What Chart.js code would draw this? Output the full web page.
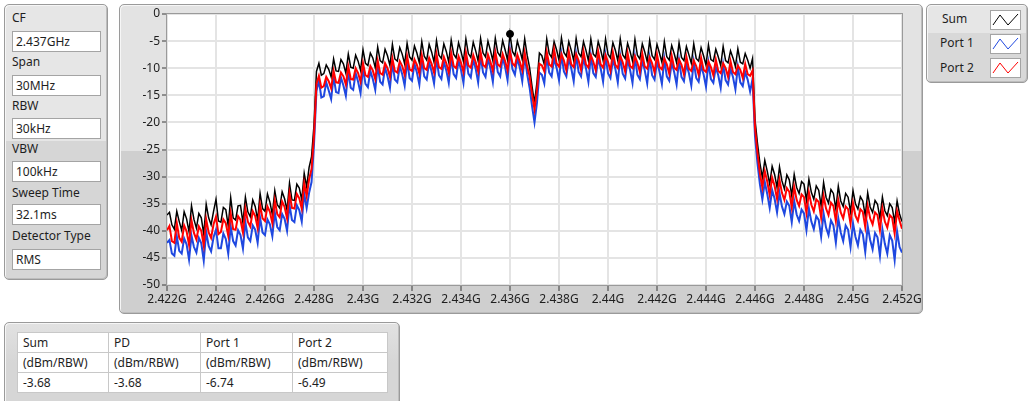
<!DOCTYPE html>
<html>
<head>
<meta charset="utf-8">
<script src="https://cdn.jsdelivr.net/npm/chart.js@4.4.1/dist/chart.umd.min.js"></script>
<style>
  html, body { margin: 0; padding: 0; background: #fff; }
  body {
    width: 1029px; height: 401px; position: relative; overflow: hidden;
    font-family: "Noto Sans", "DejaVu Sans", sans-serif; font-size: 12px; color: #1e1e1e;
  }
  .panel {
    position: absolute; box-sizing: border-box;
    border: 1px solid #9a9a9a; border-radius: 5px;
    box-shadow: inset 1px 1px 0 #f6f6f6, inset -1px -1px 0 #bdbdbd;
  }
  .lbl { position: absolute; line-height: 16px; white-space: nowrap; }
  .box {
    position: absolute; box-sizing: border-box; background: #fff;
    border: 1px solid #a4a4a4; height: 21px; line-height: 19px; padding-left: 3px; white-space: nowrap;
  }
  .swatch { position: absolute; left: 990px; width: 31px; height: 20px; box-sizing: border-box;
    background: #fff; border: 1px solid #a4a4a4; }
  .swatch svg { display: block; }
  table.readout {
    position: absolute; left: 17px; top: 332px; border-collapse: collapse; background: #fff;
    border: 1px solid #9a9a9a; table-layout: fixed;
  }
  table.readout td {
    border: 1px solid #c8c8c8; padding: 0 0 0 5px; height: 19px; line-height: 19px; white-space: nowrap;
  }
</style>
</head>
<body>

<!-- analyzer settings -->
<div class="panel" style="left:4px; top:4px; width:104px; height:276px;
     background: linear-gradient(to bottom, #e6e6e6 0, #e6e6e6 136px, #d6d6d6 136px, #d6d6d6 100%);"></div>
<div class="lbl" style="left:12px; top:10px;">CF</div>
<div class="box" style="left:12px; top:31px; width:89px;">2.437GHz</div>
<div class="lbl" style="left:12px; top:54px;">Span</div>
<div class="box" style="left:12px; top:75px; width:89px;">30MHz</div>
<div class="lbl" style="left:12px; top:98px;">RBW</div>
<div class="box" style="left:12px; top:118px; width:89px;">30kHz</div>
<div class="lbl" style="left:12px; top:141px;">VBW</div>
<div class="box" style="left:12px; top:161px; width:89px;">100kHz</div>
<div class="lbl" style="left:12px; top:185px;">Sweep Time</div>
<div class="box" style="left:12px; top:204px; width:89px;">32.1ms</div>
<div class="lbl" style="left:12px; top:228px;">Detector Type</div>
<div class="box" style="left:12px; top:249px; width:89px;">RMS</div>

<!-- spectrum graph -->
<div class="panel" style="left:119px; top:4px; width:804px; height:310px;
     background: linear-gradient(to bottom, #e3e3e3 0, #e3e3e3 146px, #cfcfcf 146px, #cfcfcf 100%);"></div>
<div style="position:absolute; left:119px; top:4px; width:804px; height:310px;">
  <canvas id="spectrum" width="804" height="310"></canvas>
</div>

<!-- plot legend -->
<div class="panel" style="left:926px; top:4px; width:102px; height:79px;
     background: linear-gradient(to bottom, #e6e6e6 0, #e6e6e6 28px, #d8d8d8 28px, #d8d8d8 100%);"></div>
<div class="lbl" style="left:942px; top:11px;">Sum</div>
<div class="lbl" style="left:940px; top:35px;">Port 1</div>
<div class="lbl" style="left:940px; top:60px;">Port 2</div>
<div class="swatch" style="top:10px;"><svg width="29" height="18"><polyline points="2,14 9,4 17,14 27,3" fill="none" stroke="#000" stroke-width="1"/></svg></div>
<div class="swatch" style="top:34px;"><svg width="29" height="18"><polyline points="2,14 9,4 17,14 27,3" fill="none" stroke="#1f48e0" stroke-width="1"/></svg></div>
<div class="swatch" style="top:58px;"><svg width="29" height="18"><polyline points="2,14 9,4 17,14 27,3" fill="none" stroke="#ff0000" stroke-width="1"/></svg></div>

<!-- peak readout -->
<div class="panel" style="left:4px; top:322px; width:396px; height:100px;
     background: linear-gradient(to bottom, #e2e2e2 0, #d6d6d6 40px, #d6d6d6 100%);"></div>
<table class="readout">
  <colgroup><col style="width:91px"><col style="width:92px"><col style="width:92px"><col style="width:95px"></colgroup>
  <tr><td>Sum</td><td>PD</td><td>Port 1</td><td>Port 2</td></tr>
  <tr><td>(dBm/RBW)</td><td>(dBm/RBW)</td><td>(dBm/RBW)</td><td>(dBm/RBW)</td></tr>
  <tr><td id="pkSum"></td><td id="pkPd"></td><td id="pkP1"></td><td id="pkP2"></td></tr>
</table>

<script>
// Sweep: 2.422 GHz .. 2.452 GHz, one trace point every 100 kHz (frequencies in MHz)
const startMHz = 2422;
const stepMHz = 0.1;

// Sum of both ports (dBm/RBW)
const sumDbm = [
  -37.1, -36.6, -38.9, -39.7, -36.4, -38.3, -39.9, -36.5, -37.8, -40.2,
  -35.4, -37.9, -39.5, -36.8, -37.6, -40.6, -35.1, -37.6, -38.9, -36.4,
  -34.2, -38.2, -38.4, -35.7, -36.1, -39.1, -33.9, -37.6, -38.0, -35.4,
  -35.3, -38.5, -33.8, -36.5, -37.4, -34.3, -35.5, -38.0, -33.1, -35.9,
  -36.4, -33.2, -34.7, -37.0, -32.6, -35.2, -35.8, -32.8, -34.1, -36.2,
  -31.2, -34.3, -34.4, -31.4, -32.1, -34.3, -29.4, -31.9, -28.3, -26.3,
  -20.5, -10.6, -9.1, -11.3, -11.0, -9.4, -10.2, -11.6, -8.3, -10.5,
  -10.6, -8.4, -9.2, -10.9, -7.4, -9.8, -10.0, -7.6, -8.7, -10.4,
  -6.6, -9.1, -9.5, -7.2, -8.1, -9.9, -6.1, -8.6, -9.0, -6.5,
  -7.7, -9.5, -5.6, -8.3, -8.7, -6.2, -7.4, -9.2, -5.4, -7.9,
  -8.5, -5.9, -7.2, -9.0, -5.1, -7.8, -8.5, -5.6, -7.0, -8.9,
  -4.9, -7.6, -8.2, -5.5, -6.9, -8.9, -4.8, -7.4, -8.1, -5.3,
  -6.9, -8.8, -4.6, -7.3, -8.0, -5.2, -6.8, -8.7, -4.5, -7.2,
  -7.9, -5.0, -6.7, -8.6, -4.5, -7.1, -7.8, -4.9, -6.6, -8.5,
  -3.68, -6.9, -7.7, -5.0, -6.6, -8.4, -4.6, -7.6, -9.9, -13.4,
  -16.4, -12.6, -7.2, -7.7, -9.3, -4.6, -7.3, -8.0, -5.1, -6.6,
  -8.5, -4.4, -7.1, -7.8, -5.1, -6.7, -8.6, -4.5, -7.2, -7.9,
  -5.1, -6.7, -8.6, -4.6, -7.4, -7.9, -5.1, -6.6, -8.6, -4.6,
  -7.4, -8.1, -5.3, -6.7, -8.6, -4.6, -7.5, -8.2, -5.4, -6.9,
  -8.7, -4.7, -7.6, -8.3, -5.5, -7.0, -8.8, -4.9, -7.7, -8.4,
  -5.6, -7.2, -8.9, -5.1, -7.9, -8.5, -5.8, -7.3, -9.0, -5.3,
  -8.0, -8.6, -6.0, -7.5, -9.1, -5.5, -8.2, -8.7, -6.2, -7.7,
  -9.4, -5.7, -8.4, -8.7, -6.5, -7.9, -9.5, -6.0, -8.6, -9.0,
  -6.8, -8.1, -9.7, -6.4, -8.9, -9.2, -7.3, -8.5, -10.0, -8.2,
  -19.5, -23.8, -27.5, -30.2, -27.0, -29.0, -31.4, -28.1, -29.6, -32.0,
  -28.2, -30.8, -32.3, -29.7, -30.6, -33.5, -29.6, -32.0, -33.1, -30.9,
  -31.4, -34.4, -30.5, -32.9, -34.2, -31.7, -32.5, -35.4, -31.1, -33.8,
  -34.9, -32.4, -33.1, -36.0, -31.8, -34.5, -35.5, -33.1, -33.8, -36.5,
  -32.6, -35.0, -36.0, -33.7, -34.5, -37.2, -33.0, -35.6, -36.6, -34.4,
  -35.1, -37.7, -33.8, -36.3, -37.2, -35.0, -35.7, -38.4, -34.5, -36.9,
  -38.3
];

// Port 1 (dBm/RBW)
const port1Dbm = [
  -42.2, -41.7, -44.2, -44.6, -41.0, -43.7, -44.2, -41.4, -42.5, -45.3,
  -40.9, -43.0, -44.0, -41.3, -42.3, -45.5, -40.2, -42.8, -43.8, -41.2,
  -39.8, -43.2, -43.2, -40.5, -41.5, -44.2, -39.2, -41.9, -42.7, -39.9,
  -40.8, -43.3, -38.4, -41.2, -41.9, -39.0, -39.8, -42.2, -37.6, -40.3,
  -40.8, -37.9, -38.8, -41.0, -36.6, -39.3, -39.9, -36.9, -37.8, -40.0,
  -35.2, -38.0, -38.4, -35.3, -36.2, -38.3, -33.1, -35.8, -33.0, -31.0,
  -24.0, -14.2, -12.3, -15.4, -15.2, -12.6, -14.1, -15.7, -11.5, -14.4,
  -14.6, -11.7, -13.2, -15.1, -10.6, -13.6, -14.0, -10.9, -12.5, -14.6,
  -10.0, -12.9, -13.5, -10.5, -12.0, -14.0, -9.5, -12.5, -13.0, -9.9,
  -11.5, -13.6, -9.0, -12.1, -12.6, -9.6, -11.1, -13.2, -8.7, -11.8,
  -12.3, -9.2, -10.8, -13.0, -8.4, -11.5, -12.1, -8.9, -10.6, -12.8,
  -8.2, -11.3, -12.0, -8.8, -10.4, -12.7, -8.0, -11.1, -11.8, -8.6,
  -10.3, -12.7, -7.8, -11.0, -11.7, -8.4, -10.1, -12.6, -7.7, -10.8,
  -11.6, -8.2, -10.0, -12.5, -7.5, -10.7, -11.5, -8.0, -9.8, -12.2,
  -6.74, -10.2, -11.2, -8.1, -9.9, -12.4, -7.7, -11.1, -13.6, -17.0,
  -20.0, -16.4, -10.8, -11.2, -12.8, -7.8, -10.8, -11.5, -8.2, -9.9,
  -12.2, -7.5, -10.6, -11.5, -8.2, -10.0, -12.4, -7.5, -10.7, -11.5,
  -8.2, -10.0, -12.5, -7.7, -10.9, -11.6, -8.2, -10.0, -12.5, -7.7,
  -10.9, -11.8, -8.4, -10.1, -12.6, -7.8, -11.0, -11.9, -8.5, -10.3,
  -12.7, -7.9, -11.2, -12.0, -8.6, -10.4, -12.8, -8.1, -11.3, -12.1,
  -8.8, -10.6, -12.9, -8.3, -11.5, -12.3, -9.0, -10.7, -13.0, -8.5,
  -11.6, -12.4, -9.3, -10.9, -13.2, -8.8, -11.8, -12.5, -9.5, -11.1,
  -13.4, -9.0, -12.0, -12.7, -9.8, -11.3, -13.6, -9.3, -12.2, -13.0,
  -10.1, -11.6, -13.9, -9.7, -12.6, -13.3, -10.7, -12.1, -14.3, -12.0,
  -22.5, -27.5, -31.4, -34.2, -31.0, -33.2, -35.8, -32.5, -34.1, -36.6,
  -33.0, -35.5, -36.9, -34.6, -35.4, -38.4, -34.5, -37.0, -38.2, -36.1,
  -36.8, -39.9, -35.9, -38.3, -39.7, -37.3, -38.0, -41.1, -36.8, -39.4,
  -40.8, -38.1, -39.0, -42.2, -37.7, -40.3, -41.9, -39.0, -39.8, -43.0,
  -38.6, -41.1, -42.7, -39.8, -40.6, -43.9, -39.1, -41.7, -43.4, -40.4,
  -41.2, -44.6, -39.7, -42.4, -44.2, -40.8, -41.8, -45.4, -40.1, -43.0,
  -44.0
];

// Port 2 (dBm/RBW)
const port2Dbm = [
  -39.9, -39.1, -41.9, -42.2, -38.6, -41.3, -42.0, -39.0, -40.1, -42.6,
  -38.1, -40.4, -41.6, -39.2, -40.0, -42.7, -37.9, -40.3, -41.3, -38.8,
  -37.4, -40.6, -40.2, -37.9, -38.6, -40.9, -36.8, -39.7, -39.8, -37.3,
  -38.0, -40.3, -35.9, -38.3, -39.2, -36.4, -37.3, -39.5, -35.2, -37.7,
  -38.2, -35.5, -36.5, -38.6, -34.4, -36.9, -37.5, -34.6, -35.6, -37.7,
  -33.1, -35.8, -35.9, -33.2, -34.0, -35.9, -31.2, -33.6, -30.5, -28.6,
  -22.5, -12.9, -11.4, -13.6, -13.3, -11.6, -12.4, -13.7, -10.5, -12.6,
  -12.7, -10.8, -11.5, -13.0, -9.7, -12.0, -12.1, -10.0, -10.9, -12.5,
  -9.1, -11.3, -11.6, -9.6, -10.4, -12.0, -8.6, -10.9, -11.2, -9.1,
  -10.0, -11.6, -8.2, -10.5, -10.8, -8.7, -9.6, -11.2, -7.8, -10.2,
  -10.5, -8.4, -9.4, -11.0, -7.6, -10.0, -10.3, -8.1, -9.2, -10.8,
  -7.4, -9.8, -10.1, -7.9, -9.1, -10.8, -7.2, -9.6, -10.0, -7.8,
  -9.0, -10.7, -7.1, -9.5, -9.9, -7.6, -8.9, -10.6, -7.0, -9.4,
  -9.8, -7.5, -8.8, -10.5, -7.0, -9.3, -9.7, -7.4, -8.7, -10.4,
  -6.9, -9.1, -9.6, -7.5, -8.8, -10.4, -7.1, -9.7, -11.5, -14.8,
  -17.6, -14.1, -9.2, -9.5, -10.6, -7.0, -9.3, -9.7, -6.49, -9.1,
  -9.7, -7.4, -8.6, -10.4, -6.9, -9.3, -9.8, -7.4, -8.6, -10.3,
  -6.9, -9.3, -9.9, -7.6, -8.8, -10.4, -6.9, -9.3, -9.9, -7.6,
  -8.8, -10.5, -7.1, -9.4, -10.0, -7.7, -8.9, -10.6, -7.2, -9.6,
  -10.0, -7.8, -9.0, -10.7, -7.3, -9.7, -10.1, -8.0, -9.1, -10.8,
  -7.5, -9.8, -10.2, -8.2, -9.3, -11.0, -7.7, -9.9, -10.3, -8.4,
  -9.4, -11.1, -7.9, -10.1, -10.5, -8.6, -9.6, -11.2, -8.1, -10.3,
  -10.7, -8.8, -9.8, -11.3, -8.4, -10.5, -10.9, -9.1, -10.0, -11.6,
  -8.7, -10.7, -11.1, -9.5, -10.3, -11.8, -9.2, -11.1, -11.4, -10.4,
  -21.0, -25.6, -29.4, -32.0, -29.0, -30.9, -33.4, -30.2, -31.7, -34.1,
  -30.6, -33.0, -34.3, -32.1, -32.8, -35.7, -31.9, -34.3, -35.4, -33.3,
  -33.8, -36.7, -32.9, -35.2, -36.4, -34.2, -34.7, -37.6, -33.6, -35.9,
  -37.1, -34.8, -35.4, -38.2, -34.3, -36.6, -37.7, -35.5, -36.0, -38.7,
  -34.9, -37.2, -38.2, -36.0, -36.5, -39.3, -35.4, -37.7, -38.8, -36.6,
  -37.1, -39.9, -35.9, -38.3, -39.4, -37.1, -37.6, -40.5, -36.4, -38.1,
  -39.6
];

// Axis ranges
const freqMinMHz = 2422, freqMaxMHz = 2452, freqTickMHz = 2;
const levelMin = -50, levelMax = 0, levelTick = 5;

const toPoints = arr => arr.map((v, i) => ({ x: startMHz + i * stepMHz, y: v }));
const peakIndex = arr => arr.reduce((best, v, i) => (v > arr[best] ? i : best), 0);

const sumPeak = peakIndex(sumDbm);
const peakMarker = [{ x: startMHz + sumPeak * stepMHz, y: sumDbm[sumPeak] }];

// peak readout table
document.getElementById('pkSum').textContent = sumDbm[sumPeak].toFixed(2);
document.getElementById('pkPd').textContent = sumDbm[sumPeak].toFixed(2);
document.getElementById('pkP1').textContent = port1Dbm[peakIndex(port1Dbm)].toFixed(2);
document.getElementById('pkP2').textContent = port2Dbm[peakIndex(port2Dbm)].toFixed(2);

// white plot area with a thin frame
const plotFrame = {
  id: 'plotFrame',
  beforeDraw(chart) {
    const { ctx, chartArea: a } = chart;
    ctx.save();
    ctx.fillStyle = '#ffffff';
    ctx.fillRect(a.left, a.top, a.right - a.left, a.bottom - a.top);
    ctx.restore();
  },
  beforeDatasetsDraw(chart) {
    const { ctx, chartArea: a } = chart;
    ctx.save();
    ctx.strokeStyle = '#9a9a9a';
    ctx.lineWidth = 1;
    ctx.strokeRect(a.left - 0.5, a.top - 0.5, a.right - a.left + 1, a.bottom - a.top + 1);
    ctx.restore();
  }
};

Chart.defaults.font.family = '"Noto Sans", "DejaVu Sans", sans-serif';
Chart.defaults.font.size = 12;
Chart.defaults.color = '#1e1e1e';

new Chart(document.getElementById('spectrum'), {
  type: 'line',
  data: {
    datasets: [
      { label: 'Peak', type: 'scatter', data: peakMarker, order: 0,
        pointRadius: 3.5, pointBackgroundColor: '#000', pointBorderColor: '#000', showLine: false },
      { label: 'Port 2', data: toPoints(port2Dbm), order: 1,
        borderColor: '#ff0000', borderWidth: 2, pointRadius: 0, tension: 0 },
      { label: 'Port 1', data: toPoints(port1Dbm), order: 2,
        borderColor: '#1f48e0', borderWidth: 2, pointRadius: 0, tension: 0 },
      { label: 'Sum', data: toPoints(sumDbm), order: 3,
        borderColor: '#000000', borderWidth: 1.5, pointRadius: 0, tension: 0 }
    ]
  },
  options: {
    responsive: false,
    animation: false,
    events: [],
    layout: { padding: { top: 10, right: 21, bottom: 0, left: 0 } },
    plugins: { legend: { display: false }, tooltip: { enabled: false } },
    scales: {
      x: {
        type: 'linear',
        min: freqMinMHz, max: freqMaxMHz,
        afterFit(scale) { scale.height = 29; },
        border: { display: false },
        grid: { color: '#e4e4e4', lineWidth: 2, tickColor: '#3a3a3a', tickWidth: 1, tickLength: 6 },
        ticks: {
          stepSize: freqTickMHz, padding: 1, maxRotation: 0, autoSkip: false,
          callback: v => (+(v / 1000).toFixed(3)) + 'G'
        }
      },
      y: {
        min: levelMin, max: levelMax,
        afterFit(scale) { scale.width = 48; },
        border: { display: false },
        grid: { color: '#e4e4e4', lineWidth: 2, tickColor: '#3a3a3a', tickWidth: 1, tickLength: 5 },
        ticks: { stepSize: levelTick, padding: 2 }
      }
    }
  },
  plugins: [plotFrame]
});
</script>
</body>
</html>
